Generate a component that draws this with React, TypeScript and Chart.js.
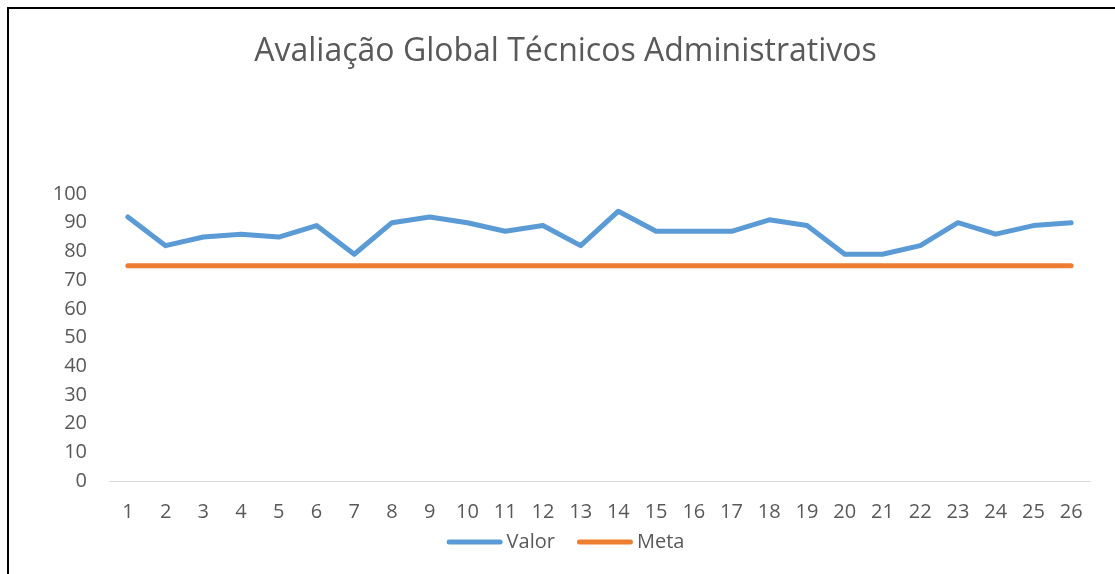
import React, { useEffect, useRef } from "react";
import { Chart, registerables } from "chart.js";

Chart.register(...registerables);

const categories = ["1","2","3","4","5","6","7","8","9","10","11","12","13","14","15","16","17","18","19","20","21","22","23","24","25","26"];
const valorValues = [92, 82, 85, 86, 85, 89, 79, 90, 92, 90, 87, 89, 82, 94, 87, 87, 87, 91, 89, 79, 79, 82, 90, 86, 89, 90];
const metaValues = [75, 75, 75, 75, 75, 75, 75, 75, 75, 75, 75, 75, 75, 75, 75, 75, 75, 75, 75, 75, 75, 75, 75, 75, 75, 75];
const titleText = "Avaliação Global Técnicos Administrativos";

const FONT = "'Open Sans', 'Noto Sans', sans-serif";
const TEXT = "#595959";

const lineLegend = {
  id: "lineLegend",
  afterDraw(chart: any) {
    const ctx = chart.ctx;
    const sample = 51;
    const cap = 2.5;
    const gap = 4;
    const between = 22;
    ctx.save();
    ctx.font = `20px ${FONT}`;
    const items = chart.data.datasets.map((d: any) => ({
      label: d.label,
      color: d.borderColor,
      width: d.borderWidth,
      tw: ctx.measureText(d.label).width,
    }));
    const total =
      items.reduce((s: number, it: any) => s + cap * 2 + sample + gap + it.tw, 0) + between * (items.length - 1);
    const tb = chart.titleBlock;
    const cx = (tb.left + tb.right) / 2;
    const cy = chart.chartArea.bottom + 61;
    let x = cx - total / 2;
    ctx.textBaseline = "middle";
    ctx.textAlign = "left";
    for (const it of items) {
      ctx.strokeStyle = it.color;
      ctx.lineWidth = it.width;
      ctx.lineCap = "round";
      ctx.beginPath();
      ctx.moveTo(x + cap, cy);
      ctx.lineTo(x + cap + sample, cy);
      ctx.stroke();
      ctx.fillStyle = TEXT;
      ctx.fillText(it.label, x + cap * 2 + sample + gap, cy);
      x += cap * 2 + sample + gap + it.tw + between;
    }
    ctx.restore();
  },
};

export default function App() {
  const ref = useRef<HTMLCanvasElement | null>(null);
  useEffect(() => {
    if (!ref.current) return;
    const chart = new Chart(ref.current, {
      type: "line",
      data: {
        labels: categories,
        datasets: [
          {
            label: "Valor",
            data: valorValues,
            borderColor: "#5B9BD5",
            backgroundColor: "#5B9BD5",
            borderWidth: 5,
            pointRadius: 0,
            borderCapStyle: "round",
            borderJoinStyle: "round",
            tension: 0,
          },
          {
            label: "Meta",
            data: metaValues,
            borderColor: "#ED7D31",
            backgroundColor: "#ED7D31",
            borderWidth: 5,
            pointRadius: 0,
            borderCapStyle: "round",
            borderJoinStyle: "round",
            tension: 0,
          },
        ],
      },
      plugins: [lineLegend],
      options: {
        animation: false,
        responsive: false,
        layout: { padding: { left: 32, right: 25, top: 0, bottom: 0 } },
        plugins: {
          tooltip: { enabled: false },
          legend: { display: false },
          title: {
            display: true,
            text: titleText,
            color: TEXT,
            font: { family: FONT, size: 32, weight: "normal", lineHeight: 1.2 },
            padding: { top: 24, bottom: 122.6 },
          },
        },
        scales: {
          x: {
            offset: true,
            grid: { display: false, drawTicks: false },
            border: { display: true, color: "#d9d9d9", width: 1 },
            ticks: { color: TEXT, font: { family: FONT, size: 20 }, padding: 19, maxRotation: 0, autoSkip: false },
            afterFit: (s: any) => { s.height = 93; },
          },
          y: {
            min: 0,
            max: 100,
            grid: { display: false, drawTicks: false },
            border: { display: false },
            ticks: { stepSize: 10, color: TEXT, font: { family: FONT, size: 20 }, padding: 22 },
            afterFit: (s: any) => { s.width = 68; },
          },
        },
      },
    });
    return () => chart.destroy();
  }, []);
  return (
    <div
      style={{
        position: "absolute",
        left: 7,
        top: 7,
        width: 1106,
        height: 565,
        borderLeft: "2px solid #000",
        borderTop: "2px solid #000",
        background: "#fff",
        overflow: "hidden",
      }}
    >
      <canvas ref={ref} width={1106} height={565} style={{ display: "block", width: 1106, height: 565 }} />
    </div>
  );
}
